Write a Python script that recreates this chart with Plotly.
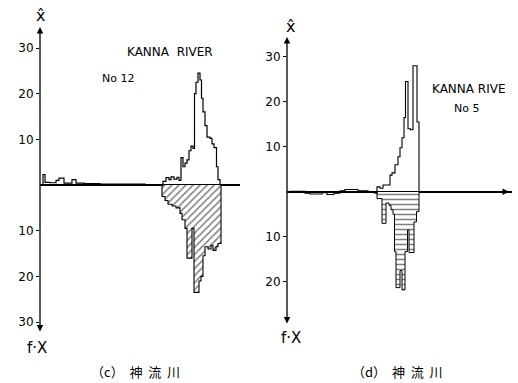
import plotly.graph_objects as go

# ---------------- data ----------------
# panel (c) No 12 : horizontal bin starts (arbitrary units from axis), upper values x^
c_up_x = [3, 5, 10, 16, 19, 24, 32, 36, 44, 60, 105, 120, 123, 126, 129, 131, 134, 137, 139,
          141, 143, 145, 147, 149, 151, 153, 154.5, 156, 158, 160, 161.5, 163, 165, 167, 170,
          172, 174, 176.5, 178]
c_up_end = 180
c_up_v = [2.3, 0.6, 0.5, 1.0, 1.5, 0.4, 1.2, 0.4, 0.3, 0.2, 0.1, 0.0, 0.8, 1.6, 1.2, 1.8, 1.3,
          1.7, 1.0, 6.0, 4.0, 4.8, 5.5, 7.5, 8.5, 8.0, 20.0, 22.5, 24.5, 23.0, 19.0, 16.0, 13.0,
          10.5, 10.2, 9.0, 8.2, 4.0, 1.2]
# panel (c) lower values f.X (magnitude, drawn downward)
c_lo_x = [122, 125, 128, 132, 136, 140, 142, 145, 147, 152, 154, 159, 161, 163, 165, 168, 171,
          173, 176, 178]
c_lo_end = 181
c_lo_v = [2.5, 3.4, 4.2, 4.6, 5.0, 6.2, 7.6, 9.5, 16.0, 9.5, 23.5, 21.0, 20.0, 15.5, 13.5, 14.0,
          13.2, 14.3, 13.5, 12.8]

# panel (d) No 5
d_up_x = [3, 18, 23, 35, 40, 47, 53, 58, 71, 81, 88, 90, 93, 96, 103, 105, 108, 111, 113, 115,
          117, 118.5, 121, 123.5, 126, 130]
d_up_end = 132
d_up_v = [0.1, -0.3, -0.5, -0.2, -0.6, -0.3, 0.2, 0.5, 0.2, 0.0, -0.3, 1.1, 0.8, 1.5, 3.7, 4.2,
          6.0, 7.8, 9.8, 12.0, 16.5, 24.5, 14.0, 13.8, 28.0, 15.5]
d_lo_x = [90, 95, 99, 102, 104, 106, 107.5, 109, 113, 115, 118, 120.5, 122, 127, 129.5]
d_lo_end = 132
d_lo_v = [1.5, 7.0, 2.5, 3.0, 4.0, 5.0, 13.3, 21.3, 17.5, 21.8, 13.3, 8.5, 13.5, 6.7, 4.4]

tick_vals = [-30, -20, -10, 10, 20, 30]
tick_text = ["30", "20", "10", "10", "20", "30"]
tick_vals_d = [-20, -10, 10, 20, 30]
tick_text_d = ["20", "10", "10", "20", "30"]

W, H = 518, 383
FONT = "DejaVu Sans"


def step(xs, end, vs, sign=1):
    """Explicit step-outline corners of a histogram from bin starts and values."""
    edges = list(xs) + [end]
    x, y = [edges[0]], [0]
    for i, v in enumerate(vs):
        x += [edges[i], edges[i + 1]]
        y += [sign * v, sign * v]
    x.append(end)
    y.append(0)
    return x, y


def bars(xs, end, vs, sign=1):
    edges = list(xs) + [end]
    centers = [(edges[i] + edges[i + 1]) / 2 for i in range(len(vs))]
    widths = [edges[i + 1] - edges[i] for i in range(len(vs))]
    return centers, widths, [sign * v for v in vs]


fig = go.Figure()

# (c) lower, diagonal hatch
cx, cw, cy = bars(c_lo_x, c_lo_end, c_lo_v, -1)
fig.add_trace(go.Bar(x=cx, y=cy, width=cw, base=0, xaxis="x", yaxis="y", hoverinfo="skip",
                     marker=dict(color="white", line=dict(width=0),
                                 pattern=dict(shape="/", size=5, solidity=0.3, fgcolor="black",
                                              bgcolor="white"))))
x, y = step(c_lo_x, c_lo_end, c_lo_v, -1)
fig.add_trace(go.Scatter(x=x, y=y, mode="lines", line=dict(color="black", width=1.1),
                         xaxis="x", yaxis="y", hoverinfo="skip"))
# (c) upper
x, y = step(c_up_x, c_up_end, c_up_v)
fig.add_trace(go.Scatter(x=x, y=y, mode="lines", line=dict(color="black", width=1.2),
                         xaxis="x", yaxis="y", hoverinfo="skip"))
# (d) lower, horizontal hatch
dx, dw, dy = bars(d_lo_x, d_lo_end, d_lo_v, -1)
fig.add_trace(go.Bar(x=dx, y=dy, width=dw, base=0, xaxis="x2", yaxis="y2", hoverinfo="skip",
                     marker=dict(color="white", line=dict(width=0),
                                 pattern=dict(shape="-", size=5, solidity=0.3, fgcolor="black",
                                              bgcolor="white"))))
x, y = step(d_lo_x, d_lo_end, d_lo_v, -1)
fig.add_trace(go.Scatter(x=x, y=y, mode="lines", line=dict(color="black", width=1.0),
                         xaxis="x2", yaxis="y2", hoverinfo="skip"))
# (d) upper
x, y = step(d_up_x, d_up_end, d_up_v)
fig.add_trace(go.Scatter(x=x, y=y, mode="lines", line=dict(color="black", width=1.1),
                         xaxis="x2", yaxis="y2", hoverinfo="skip"))

ycfg = dict(showgrid=False, showline=False, zeroline=True, zerolinecolor="black",
            zerolinewidth=1.6, ticks="outside", ticklen=3, tickcolor="black",
            tickfont=dict(family=FONT, size=12, color="black"), fixedrange=True)
xcfg = dict(showgrid=False, showline=False, zeroline=False, showticklabels=False, ticks="",
            fixedrange=True)

c_ytop, c_ybot = 34.6, -32.4
d_ytop, d_ybot = 34.4, -29.6

fig.update_layout(
    width=W, height=H, margin=dict(l=0, r=0, t=0, b=0), barmode="overlay", bargap=0,
    paper_bgcolor="white", plot_bgcolor="rgba(0,0,0,0)", showlegend=False,
    xaxis=dict(domain=[40 / W, 240 / W], range=[0, 200], anchor="y", **xcfg),
    yaxis=dict(domain=[1 - 333 / H, 1 - 27 / H], range=[c_ybot, c_ytop], anchor="x",
               tickvals=tick_vals, ticktext=tick_text, **ycfg),
    xaxis2=dict(domain=[287 / W, 512 / W], range=[0, 225], anchor="y2", **xcfg),
    yaxis2=dict(domain=[1 - 325 / H, 1 - 37 / H], range=[d_ybot, d_ytop], anchor="x2",
                tickvals=tick_vals_d, ticktext=tick_text_d, **ycfg),
)

ann = []
# vertical axes with arrows both ends
for xr, yr, top, bot in [("x", "y", c_ytop, c_ybot), ("x2", "y2", d_ytop, d_ybot)]:
    ann.append(dict(x=0, y=top, ax=0, ay=bot, xref=xr, yref=yr, axref=xr, ayref=yr,
                    text="", showarrow=True, arrowside="end+start", arrowhead=2,
                    startarrowhead=2, arrowsize=1, startarrowsize=1, arrowwidth=1.3,
                    arrowcolor="black", standoff=0, startstandoff=0))
# right x-axis arrow
ann.append(dict(x=222, y=0, ax=200, ay=0, xref="x2", yref="y2", axref="x2", ayref="y2",
                text="", showarrow=True, arrowhead=2, arrowsize=1, arrowwidth=1.3,
                arrowcolor="black", standoff=0))


def txt(x, y, s, size=12, family=FONT, xanchor="center"):
    ann.append(dict(x=x / W, y=1 - y / H, xref="paper", yref="paper", text=s, showarrow=False,
                    xanchor=xanchor, yanchor="middle",
                    font=dict(family=family, size=size, color="black")))


txt(40, 16, "x̂", size=16)
txt(290, 26, "x̂", size=16)
txt(37, 348, "f·X", size=15)
txt(291, 338, "f·X", size=15)
txt(125, 52, "KANNA  RIVER", size=12, xanchor="left")
txt(100, 78, "No 12", size=11, xanchor="left")
txt(430, 89, "KANNA RIVE", size=12, xanchor="left")
txt(452, 109, "No 5", size=11, xanchor="left")
txt(135, 371, "（c）  神  流  川", size=13, family="Noto Sans CJK JP")
txt(397, 371, "（d）  神  流  川", size=13, family="Noto Sans CJK JP")

fig.update_layout(annotations=ann)
fig.write_html("out.html")
